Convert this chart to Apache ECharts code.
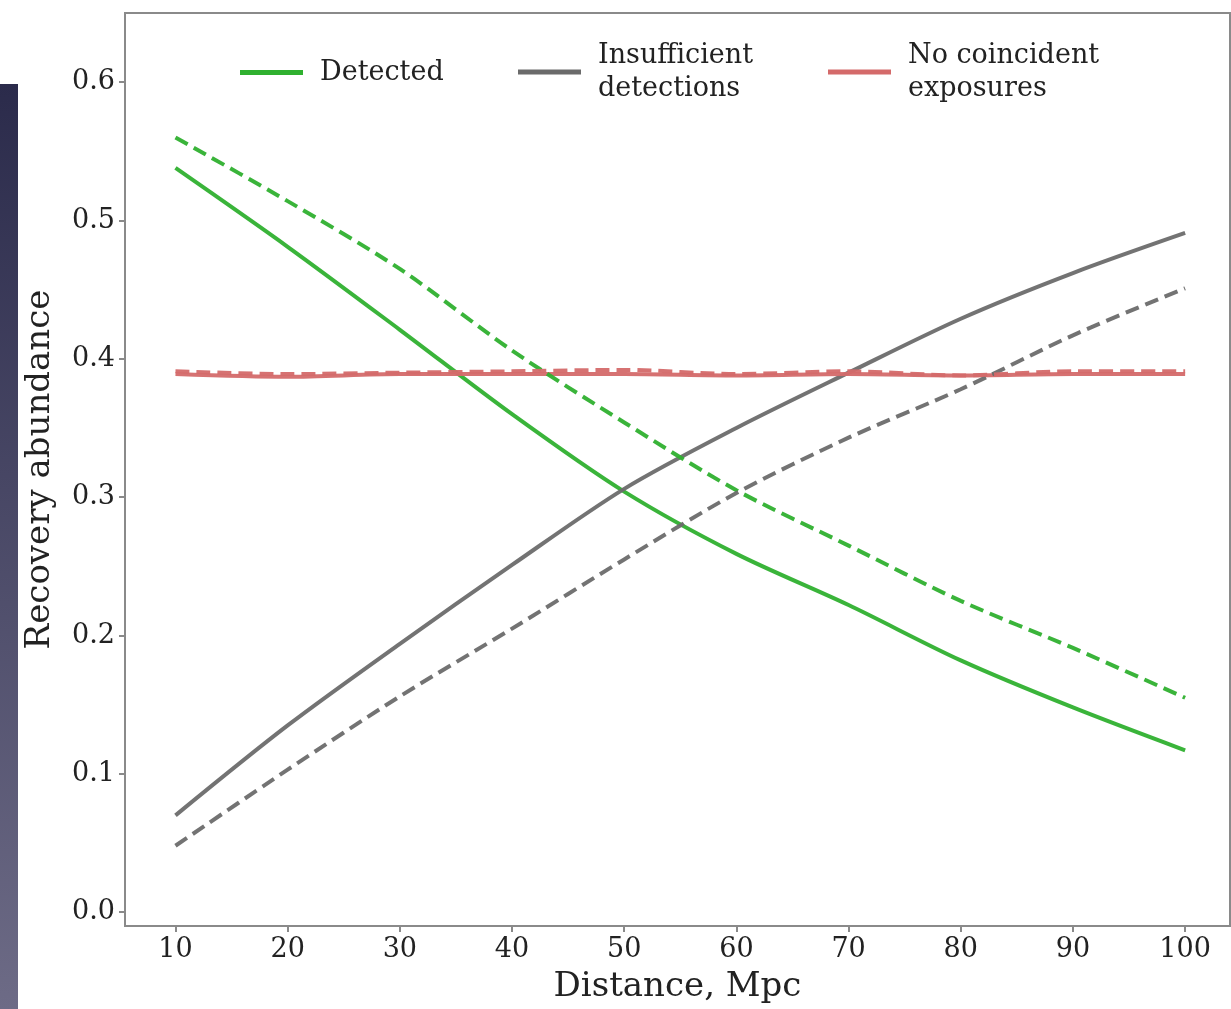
<!DOCTYPE html>
<html>
<head>
<meta charset="utf-8">
<script src="https://cdn.jsdelivr.net/npm/echarts@6/dist/echarts.min.js"></script>
<style>
  html, body { margin: 0; padding: 0; background: #fff; }
  #main { width: 1231px; height: 1009px; }
</style>
</head>
<body>
<div id="main"></div>
<script>
// distance, Mpc
const distance = [10, 20, 30, 40, 50, 60, 70, 80, 90, 100];
// solid lines
const detected = [0.538, 0.481, 0.421, 0.360, 0.304, 0.259, 0.222, 0.182, 0.148, 0.117];
const insufficient = [0.070, 0.135, 0.194, 0.251, 0.306, 0.350, 0.390, 0.429, 0.462, 0.491];
const noCoincident = [0.389, 0.387, 0.389, 0.389, 0.389, 0.388, 0.389, 0.388, 0.389, 0.389];
// dashed lines
const detectedDash = [0.560, 0.514, 0.465, 0.406, 0.354, 0.305, 0.265, 0.225, 0.191, 0.155];
const insufficientDash = [0.048, 0.103, 0.156, 0.205, 0.255, 0.303, 0.343, 0.378, 0.417, 0.451];
const noCoincidentDash = [0.391, 0.389, 0.390, 0.391, 0.392, 0.389, 0.391, 0.388, 0.391, 0.391];

const xTicks = [10, 20, 30, 40, 50, 60, 70, 80, 90, 100];
const yTicks = [0, 0.1, 0.2, 0.3, 0.4, 0.5, 0.6];

const GREEN = "#2fb02f";
const GREY = "#6b6b6b";
const RED = "#d46a6a";
const FONT = "DejaVu Serif";

const pairs = (ys) => distance.map((d, i) => [d, ys[i]]);

function line(name, ys, color, dashed) {
  return {
    name: name,
    type: "line",
    data: pairs(ys),
    smooth: 0.3,
    showSymbol: false,
    itemStyle: { color: color },
    lineStyle: { color: color, width: 4, type: dashed ? [14, 7] : "solid", opacity: 0.95 },
    z: dashed ? 3 : 2,
  };
}

const chart = echarts.init(document.getElementById("main"));

function legendAt(name, left, top) {
  return {
    data: [name],
    left: left,
    top: top,
    icon: "rect",
    itemWidth: 63,
    itemHeight: 5,
    itemGap: 0,
    selectedMode: false,
    textStyle: { fontFamily: FONT, fontSize: 27, color: "#222", lineHeight: 33, padding: [0, 0, 0, 12] },
  };
}

chart.setOption({
  animation: false,
  backgroundColor: "#fff",
  graphic: [
    {
      type: "rect",
      left: 0,
      top: 84,
      shape: { width: 18, height: 925 },
      style: {
        fill: new echarts.graphic.LinearGradient(0, 0, 0, 1, [
          { offset: 0, color: "#2b2b4b" },
          { offset: 1, color: "#6d6b86" },
        ]),
      },
    },
  ],
  legend: [
    legendAt("Detected", 235, 51),
    Object.assign(legendAt("Insufficient detections", 513, 34), {
      formatter: () => "Insufficient\ndetections",
    }),
    Object.assign(legendAt("No coincident exposures", 823, 34), {
      formatter: () => "No coincident\nexposures",
    }),
  ],
  grid: {
    left: 125,
    top: 13,
    width: 1105,
    height: 913,
    outerBoundsMode: "none",
    containLabel: false,
    show: true,
    borderColor: "#8a8a8a",
    borderWidth: 2,
    backgroundColor: "transparent",
  },
  xAxis: {
    type: "value",
    min: 5.5,
    max: 104,
    name: "Distance, Mpc",
    nameLocation: "middle",
    nameGap: 44,
    nameTextStyle: { fontFamily: FONT, fontSize: 34, color: "#222", verticalAlign: "top" },
    axisLine: { show: true, onZero: false, lineStyle: { color: "#8a8a8a", width: 2 } },
    axisTick: { show: true, customValues: xTicks, length: 6, lineStyle: { color: "#8a8a8a", width: 2 } },
    axisLabel: {
      customValues: xTicks,
      fontFamily: FONT,
      fontSize: 27,
      color: "#222",
      margin: 10,
    },
    splitLine: { show: false },
  },
  yAxis: {
    type: "value",
    min: -0.01,
    max: 0.65,
    name: "Recovery abundance",
    nameLocation: "middle",
    nameGap: 68,
    nameTextStyle: { fontFamily: FONT, fontSize: 34, color: "#222" },
    axisLine: { show: true, onZero: false, lineStyle: { color: "#8a8a8a", width: 2 } },
    axisTick: { show: true, customValues: yTicks, length: 6, lineStyle: { color: "#8a8a8a", width: 2 } },
    axisLabel: {
      customValues: yTicks,
      formatter: (v) => v.toFixed(1),
      fontFamily: FONT,
      fontSize: 27,
      color: "#222",
      margin: 10,
    },
    splitLine: { show: false },
  },
  series: [
    line("Detected", detected, GREEN, false),
    line("Insufficient detections", insufficient, GREY, false),
    line("No coincident exposures", noCoincident, RED, false),
    line("Detected", detectedDash, GREEN, true),
    line("Insufficient detections", insufficientDash, GREY, true),
    line("No coincident exposures", noCoincidentDash, RED, true),
  ],
});
</script>
</body>
</html>
